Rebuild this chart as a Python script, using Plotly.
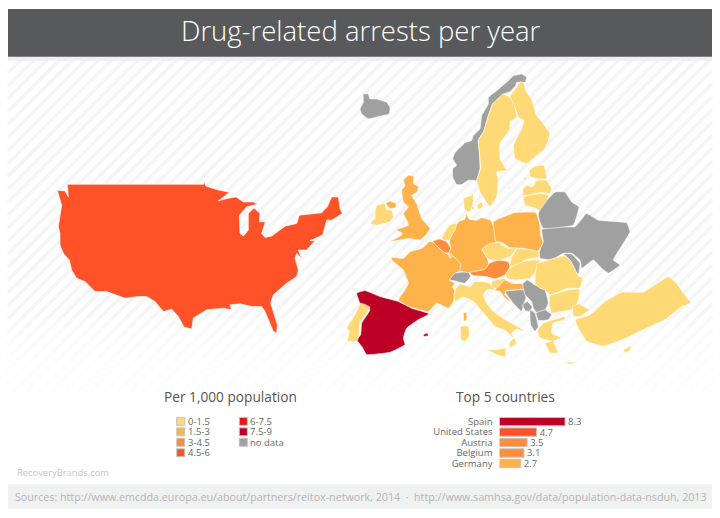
import plotly.graph_objects as go

# legend classes
class_labels = ["0-1.5", "1.5-3", "3-4.5", "4.5-6", "6-7.5", "7.5-9", "no data"]
class_colors = ["#FED976", "#FEB24C", "#FD8D3C", "#FF5229", "#E31A1C", "#BD0026", "#A0A0A0"]
class_breaks = [1.5, 3, 4.5, 6, 7.5, 9]

# top 5 bars
top_countries = ["Spain", "United States", "Austria", "Belgium", "Germany"]
top_values = [8.3, 4.7, 3.5, 3.1, 2.7]

title_text = "Drug-related arrests per year"
source_text = ("Sources: http://www.emcdda.europa.eu/about/partners/reitox-network, 2014"
               "  ·  http://www.samhsa.gov/data/population-data-nsduh, 2013")


def crop(x0, y0, pts):
    return [(x0 + a / 3, y0 + b / 3) for a, b in pts]


usa = crop(30, 170, [(112, 42), (520, 42), (524, 35), (527, 47), (560, 58), (598, 66), (565, 92), (590, 85), (618, 80),
                     (640, 95), (670, 95), (682, 102), (650, 110), (628, 135), (630, 190), (640, 198), (655, 180),
                     (655, 130), (672, 113), (690, 130), (688, 155), (706, 155), (695, 190), (705, 202), (725, 198),
                     (765, 168), (800, 160), (808, 135), (875, 128), (892, 110), (905, 80), (925, 80), (930, 115),
                     (937, 130), (905, 150), (890, 150), (878, 195), (840, 212), (855, 212), (830, 240), (805, 240),
                     (815, 265), (800, 250), (795, 265), (805, 300), (800, 320), (770, 340), (730, 375), (722, 400),
                     (742, 465), (740, 490), (730, 485), (705, 425), (695, 410), (665, 410), (630, 402), (600, 405),
                     (605, 420), (580, 415), (530, 420), (490, 445), (485, 478), (462, 472), (445, 440), (425, 418),
                     (400, 425), (375, 395), (350, 380), (325, 380), (285, 385), (230, 365), (195, 365), (165, 335),
                     (140, 325), (125, 300), (118, 270), (100, 250), (90, 225), (90, 190), (85, 170), (95, 105),
                     (82, 60), (105, 62), (115, 80)])
iceland = crop(340, 65, [(60, 130), (70, 110), (70, 85), (85, 85), (90, 100), (110, 100), (140, 110), (150, 125),
                         (148, 145), (120, 152), (85, 160), (65, 145)])
norway = crop(340, 65, [(350, 358), (338, 335), (338, 310), (350, 300), (338, 280), (345, 262), (375, 232), (395, 225),
                        (400, 210), (420, 190), (425, 150), (445, 115), (445, 95), (470, 75), (505, 45), (520, 30),
                        (545, 25), (560, 35), (555, 50), (530, 50), (527, 60), (510, 78), (490, 85), (480, 95),
                        (458, 115), (445, 150), (432, 195), (415, 225), (418, 260), (420, 310), (410, 345), (385, 345),
                        (365, 358)])
finland = crop(340, 65, [(530, 65), (540, 48), (552, 52), (557, 75), (575, 100), (590, 150), (610, 175), (630, 205),
                         (615, 250), (590, 270), (560, 295), (525, 280), (520, 240), (545, 190), (552, 165), (535, 155),
                         (525, 125), (510, 92)])
sweden = crop(340, 65, [(490, 85), (510, 95), (525, 125), (530, 155), (510, 170), (510, 190), (480, 235), (480, 280),
                        (500, 315), (470, 320), (475, 345), (470, 395), (450, 425), (435, 405), (420, 380), (410, 345),
                        (422, 310), (418, 260), (415, 225), (432, 195), (445, 150), (458, 115)])
gotland = crop(340, 65, [(505, 365), (510, 362), (508, 378)])
estonia = crop(340, 65, [(568, 315), (585, 302), (612, 300), (620, 340), (590, 340), (570, 335)])
saaremaa = crop(340, 65, [(550, 340), (560, 335), (555, 345)])
latvia = crop(340, 65, [(548, 372), (560, 360), (578, 365), (590, 345), (620, 345), (635, 370), (630, 385), (600, 382),
                        (550, 392)])
lithuania = crop(340, 65, [(550, 395), (600, 385), (625, 390), (620, 415), (605, 440), (585, 428), (555, 420)])
denmark = crop(340, 65, [(370, 400), (395, 390), (398, 375), (400, 410), (390, 440), (375, 435)])
zealand = crop(340, 65, [(410, 420), (425, 410), (430, 425), (415, 432)])
funen = crop(340, 65, [(393, 425), (402, 423), (402, 432), (394, 432)])
britain = crop(340, 170, [(190, 30), (205, 15), (222, 18), (220, 40), (235, 48), (232, 65), (215, 75), (230, 100),
                          (245, 145), (270, 175), (258, 195), (240, 210), (205, 205), (150, 215), (185, 195),
                          (185, 187), (165, 180), (205, 165), (200, 150), (190, 130), (205, 110), (190, 95), (185, 60),
                          (195, 45)])
n_ireland = crop(340, 170, [(137, 100), (150, 92), (168, 100), (168, 112), (150, 115)])
ireland = crop(340, 170, [(90, 160), (105, 145), (105, 125), (110, 105), (135, 100), (140, 118), (155, 120), (160, 140),
                          (150, 155), (110, 165)])
france = crop(340, 170, [(155, 262), (190, 265), (210, 245), (245, 235), (268, 215)]) + \
    crop(430, 205, [(8, 110), (20, 122), (40, 140), (55, 148), (72, 155), (92, 178), (90, 198), (75, 205), (58, 225)]) + \
    crop(340, 260, [(345, 70), (338, 80), (345, 95), (340, 125), (325, 145), (290, 130), (265, 155), (205, 140),
                    (175, 120), (195, 90), (205, 70), (190, 30), (155, 0)])
spain = crop(340, 260, [(50, 100), (75, 92), (120, 110), (175, 125), (215, 145), (268, 162), (235, 180), (200, 205),
                        (190, 235), (195, 255), (150, 278), (80, 285), (65, 260), (50, 240), (62, 225), (65, 190),
                        (90, 150), (60, 130)])
portugal = crop(340, 260, [(62, 130), (90, 142), (60, 190), (58, 225), (50, 245), (22, 245), (28, 215), (20, 205),
                           (45, 165)])
balearic = crop(340, 260, [(250, 225), (262, 220), (265, 228), (252, 230)])
corsica = crop(450, 270, [(40, 130), (50, 127), (50, 150), (42, 155)])
sardinia = crop(450, 270, [(32, 170), (55, 168), (58, 200), (45, 215), (33, 210)])
italy = crop(450, 270, [(15, 95), (12, 75), (18, 55), (30, 42), (60, 50), (75, 35), (100, 35), (120, 40), (135, 60),
                        (110, 60), (100, 75), (110, 100), (130, 125), (175, 155), (220, 180), (222, 185), (200, 178),
                        (185, 190), (200, 220), (180, 235), (178, 220), (190, 205), (165, 182), (135, 170), (105, 135),
                        (70, 95), (40, 82)])
sicily = crop(450, 270, [(113, 240), (140, 240), (167, 235), (165, 262), (140, 255)])
switzerland = crop(430, 205, [(58, 225), (75, 205), (115, 200), (122, 215), (105, 235), (75, 228)])
germany = crop(430, 205, [(108, 25), (118, 42), (140, 45), (155, 38), (182, 45), (190, 62), (198, 112), (156, 132),
                          (172, 160), (176, 178), (165, 193), (118, 203), (90, 198), (92, 178), (72, 155), (55, 148),
                          (62, 130), (58, 105), (65, 90), (78, 60), (88, 48), (105, 42)])
belgium = crop(430, 205, [(8, 108), (30, 102), (50, 110), (62, 130), (55, 145), (40, 140), (20, 122)])
netherlands = crop(430, 205, [(35, 100), (45, 80), (60, 58), (80, 55), (75, 75), (65, 90), (58, 105), (48, 107)])
luxembourg = crop(430, 205, [(55, 148), (64, 146), (66, 156), (58, 158)])
poland = crop(430, 205, [(190, 50), (220, 35), (255, 22), (318, 22), (330, 60), (332, 90), (340, 115), (322, 140),
                         (275, 130), (240, 128), (215, 112), (198, 110)])
czechia = crop(430, 205, [(156, 132), (180, 115), (205, 112), (235, 130), (260, 128), (240, 155), (210, 165), (180, 165),
                          (170, 155)])
slovakia = crop(430, 205, [(243, 160), (262, 132), (280, 130), (325, 140), (328, 155), (285, 165), (260, 185), (240, 185)])
austria = crop(430, 205, [(118, 203), (165, 193), (178, 175), (205, 165), (235, 170), (240, 185), (225, 210), (195, 222),
                          (170, 215), (130, 212)])
hungary = crop(430, 205, [(240, 188), (285, 168), (330, 165), (320, 195), (300, 220), (260, 225), (230, 220), (228, 208)])
slovenia = crop(450, 270, [(125, 35), (165, 25), (165, 50), (145, 58), (125, 50)])
ukraine = crop(480, 180, [(178, 215), (190, 185), (185, 148), (240, 140), (285, 140), (320, 100), (355, 120), (440, 128),
                          (450, 155), (430, 190), (400, 240), (420, 255), (385, 280), (365, 265), (340, 240), (305, 265),
                          (300, 240), (275, 220), (250, 220), (215, 240), (180, 235)])
moldova = crop(480, 180, [(250, 222), (275, 222), (300, 250), (295, 285), (280, 260), (270, 240)])
belarus = crop(480, 180, [(205, 55), (225, 35), (255, 35), (275, 65), (297, 80), (290, 110), (280, 135), (190, 145),
                          (178, 120), (175, 98)])
croatia = crop(450, 270, [(132, 62), (140, 55), (165, 30), (185, 40), (220, 42), (222, 58), (170, 62), (165, 75),
                          (190, 100), (165, 85), (150, 65)])
bosnia = crop(450, 270, [(165, 65), (222, 60), (228, 85), (222, 100), (215, 125), (190, 100)])
serbia = crop(450, 270, [(218, 42), (232, 30), (255, 45), (285, 60), (295, 100), (285, 120), (260, 128), (250, 115),
                         (245, 95), (225, 75)])
montenegro = crop(450, 270, [(218, 105), (232, 95), (247, 112), (238, 125), (225, 122)])
macedonia = crop(450, 270, [(258, 130), (285, 120), (305, 135), (295, 150), (265, 152)])
albania = crop(450, 270, [(240, 120), (255, 130), (262, 155), (265, 170), (255, 185), (242, 165)])
romania = crop(480, 180, [(172, 250), (205, 240), (245, 228), (255, 228), (272, 242), (282, 262), (295, 288), (310, 295)]) + \
    crop(490, 260, [(278, 60), (270, 85), (235, 85), (180, 105), (165, 90), (150, 85), (135, 70)])
bulgaria = crop(490, 260, [(180, 108), (235, 90), (270, 88), (262, 130), (245, 150), (215, 155), (185, 160), (178, 135)])
greece = crop(450, 270, [(262, 183), (280, 160), (310, 150), (345, 140), (345, 150), (310, 160), (305, 190), (335, 205),
                         (310, 215), (325, 250), (300, 250), (285, 220), (305, 215), (270, 205)])
crete = crop(490, 260, [(220, 308), (262, 308), (240, 314)])
turkey = crop(490, 260, [(255, 180), (300, 165), (345, 125), (395, 97), (460, 97), (510, 65), (535, 50), (560, 70),
                         (580, 100), (603, 130), (575, 140), (525, 180), (470, 205), (420, 230), (385, 245), (340, 260),
                         (290, 245), (265, 205)])
thrace = crop(490, 260, [(248, 140), (265, 132), (298, 150), (270, 170), (250, 170)])
cyprus = crop(490, 260, [(400, 270), (425, 258), (420, 272), (405, 280)])

# outline, class index into class_colors
countries = [
    (iceland, 6), (norway, 6), (finland, 0), (sweden, 0), (gotland, 0), (estonia, 0), (saaremaa, 0),
    (latvia, 0), (lithuania, 0), (denmark, 0), (zealand, 0), (funen, 0), (britain, 1), (n_ireland, 1), (ireland, 0),
    (france, 1), (spain, 5), (portugal, 0), (balearic, 5), (corsica, 1), (sardinia, 0), (italy, 0), (sicily, 0),
    (switzerland, 6), (germany, 1), (austria, 2), (belgium, 2), (netherlands, 0), (luxembourg, 0), (poland, 1),
    (czechia, 0), (slovakia, 0), (hungary, 0), (slovenia, 0), (ukraine, 6), (moldova, 6), (belarus, 6), (croatia, 1),
    (bosnia, 6), (serbia, 6), (montenegro, 6), (macedonia, 6), (albania, 6), (romania, 0), (bulgaria, 0), (greece, 0),
    (crete, 0), (turkey, 0), (thrace, 0), (cyprus, 0),
]


def bin_color(v):
    for brk, col in zip(class_breaks, class_colors):
        if v <= brk:
            return col
    return class_colors[-1]


def stripes(left, top, right, bottom, step):
    # diagonal hatch clipped to a box, as one svg path
    path = []
    c = left + top
    while c < right + bottom:
        x1 = max(left, c - bottom)
        x2 = min(right, c - top)
        path.append(f"M{x1},{c - x1}L{x2},{c - x2}")
        c += step
    return "".join(path)


def add_outline(fig, outline, color, shape):
    fig.add_trace(go.Scatter(
        x=[p[0] for p in outline] + [outline[0][0]],
        y=[p[1] for p in outline] + [outline[0][1]],
        mode="lines",
        fill="toself",
        fillcolor=color,
        line=dict(color="#FFFFFF", width=0.6, shape=shape, smoothing=0.3),
        hoverinfo="skip",
        showlegend=False,
    ))


fig = go.Figure()

add_outline(fig, usa, class_colors[3], "linear")
for outline, cls in countries:
    add_outline(fig, outline, class_colors[cls], "spline")

fig.add_trace(go.Bar(
    x=top_values,
    y=top_countries,
    orientation="h",
    xaxis="x2",
    yaxis="y2",
    marker=dict(color=[bin_color(v) for v in top_values], line=dict(color="#C4C4C4", width=1)),
    text=[str(v) for v in top_values],
    textposition="outside",
    constraintext="none",
    textfont=dict(family="Open Sans", size=9.5, color="#666666"),
    cliponaxis=False,
    hoverinfo="skip",
    showlegend=False,
))

shapes = [
    dict(type="path", path=stripes(8, 59, 712, 392, 13), line=dict(color="#F5F5F5", width=3.5), layer="below"),
]
# hatch fades out towards the legends
for i in range(8):
    shapes.append(dict(type="rect", x0=8, x1=712, y0=318 + i * 10, y1=395, fillcolor="rgba(255,255,255,0.3)",
                       line=dict(width=0), layer="below"))
shapes += [
    dict(type="rect", x0=8, x1=712, y0=56, y1=60, fillcolor="#EFEFEF", line=dict(width=0), layer="below"),
    dict(type="rect", x0=8, x1=712, y0=8, y1=56, fillcolor="#58595B", line=dict(width=0), layer="below"),
    dict(type="rect", x0=8, x1=712, y0=485, y1=510, fillcolor="#F0F1F1", line=dict(width=0), layer="below"),
]

# legend swatches
annotations = []
col_x = [176.7, 239.3]
row_y = [422, 432.5, 443, 453.5]
slots = [(0, 0), (0, 1), (0, 2), (0, 3), (1, 0), (1, 1), (1, 2)]
for (col, row), label, color in zip(slots, class_labels, class_colors):
    shapes.append(dict(type="rect", x0=col_x[col], x1=col_x[col] + 8, y0=row_y[row] - 4, y1=row_y[row] + 4,
                       fillcolor=color, line=dict(color="#C4C4C4", width=1)))
    annotations.append(dict(x=col_x[col] + 9, y=row_y[row], text=label, xanchor="left", yanchor="middle",
                            showarrow=False, font=dict(family="Open Sans", size=9.5, color="#666666")))

annotations += [
    dict(x=360.5, y=30, text=title_text, showarrow=False, xanchor="center", yanchor="middle",
         font=dict(family="Open Sans", size=27.5, color="#FFFFFF", weight=300)),
    dict(x=230.5, y=397, text="Per 1,000 population", showarrow=False, xanchor="center", yanchor="middle",
         font=dict(family="Open Sans", size=13.7, color="#555555")),
    dict(x=505, y=397, text="Top 5 countries", showarrow=False, xanchor="center", yanchor="middle",
         font=dict(family="Open Sans", size=13.7, color="#555555")),
    dict(x=14.5, y=473, text="RecoveryBrands.com", showarrow=False, xanchor="left", yanchor="middle",
         font=dict(family="Open Sans", size=9.4, color="#C6C6C6")),
    dict(x=360.5, y=497.5, text=source_text, showarrow=False, xanchor="center", yanchor="middle",
         font=dict(family="Open Sans", size=10.7, color="#B4B4B4")),
]

fig.update_layout(
    width=720,
    height=518,
    margin=dict(l=0, r=0, t=0, b=0),
    paper_bgcolor="#FFFFFF",
    plot_bgcolor="rgba(0,0,0,0)",
    shapes=shapes,
    annotations=annotations,
    bargap=0.2,
    xaxis=dict(range=[0, 720], visible=False, domain=[0, 1]),
    yaxis=dict(range=[518, 0], visible=False, domain=[0, 1]),
    xaxis2=dict(domain=[499.5 / 720, 579.5 / 720], range=[0, 10.13], visible=False, anchor="y2"),
    yaxis2=dict(domain=[1 - 469.5 / 518, 1 - 417 / 518], autorange="reversed", anchor="x2", showline=False,
                showgrid=False, zeroline=False, ticks="", ticklabelstandoff=6, tickmode="array",
                tickvals=top_countries, ticktext=top_countries,
                tickfont=dict(family="Open Sans", size=9.5, color="#666666")),
)

# the page's default body margin would push the figure off its 720x518 frame
fig.write_html("out.html", config=dict(displayModeBar=False), post_script="document.body.style.margin='0';")
